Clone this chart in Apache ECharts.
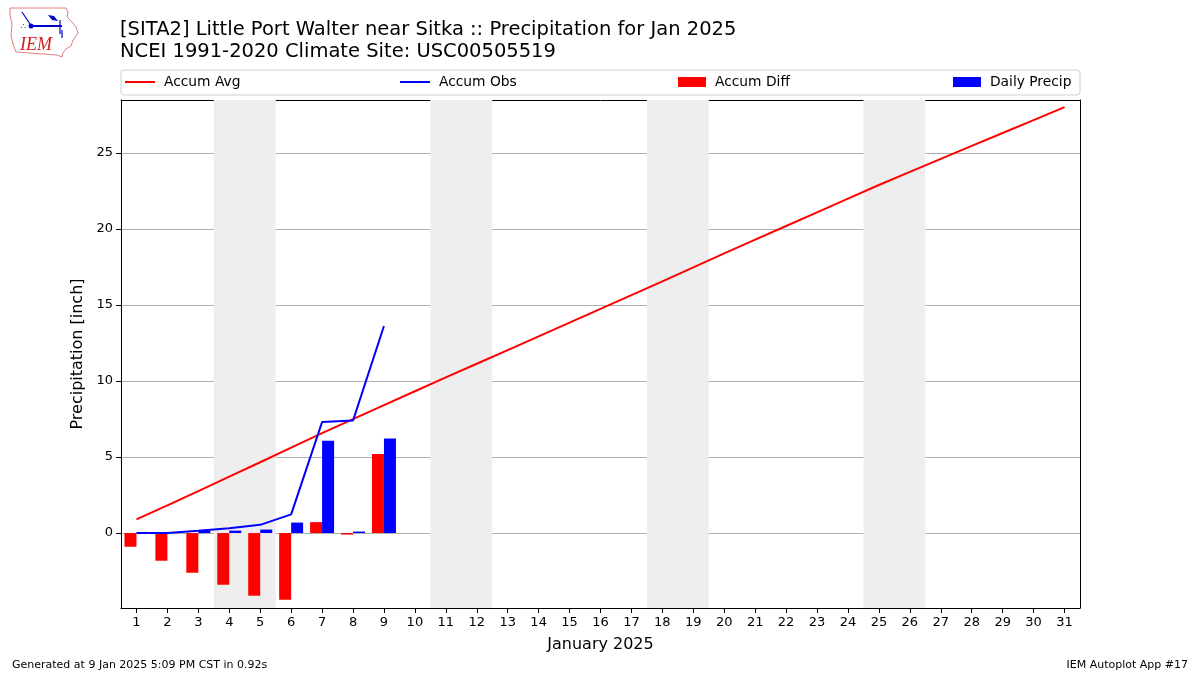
<!DOCTYPE html>
<html>
<head>
<meta charset="utf-8">
<script src="https://cdn.jsdelivr.net/npm/echarts@6/dist/echarts.min.js"></script>
<style>
html,body{margin:0;padding:0;background:#fff;}
#chart{width:1200px;height:675px;}
</style>
</head>
<body>
<div id="chart"></div>
<script>
// ---- data ----
var days = ['1','2','3','4','5','6','7','8','9','10','11','12','13','14','15','16','17','18','19','20','21','22','23','24','25','26','27','28','29','30','31'];
var accumAvg = [0.90,1.82,2.76,3.71,4.66,5.62,6.58,7.50,8.42,9.33,10.24,11.14,12.04,12.94,13.84,14.75,15.65,16.56,17.48,18.40,19.30,20.20,21.10,22.00,22.90,23.76,24.62,25.47,26.32,27.17,28.02];
var accumObs = [0.00,0.00,0.15,0.31,0.54,1.23,7.30,7.40,13.62];
var accumDiff = [-0.90,-1.82,-2.61,-3.40,-4.12,-4.39,0.72,-0.10,5.20];
var dailyPrecip = [0.00,0.00,0.15,0.16,0.23,0.69,6.07,0.10,6.22];
var weekends = [[3.5,5.5],[10.5,12.5],[17.5,19.5],[24.5,26.5]];
var yTicks = [0,5,10,15,20,25];
var yMin = -4.93, yMax = 28.49;

var FONT = 'DejaVu Sans';
var chart = echarts.init(document.getElementById('chart'), null, {renderer:'canvas'});

var shadeData = weekends.map(function(w){ return [{xAxis:w[0]},{xAxis:w[1]}]; });

function legendAt(left, name, isLine){
  return {
    show:true, left:left - 5, top:70, orient:'horizontal',
    data:[{name:name, icon:'rect'}],
    itemWidth: isLine ? 30 : 28,
    itemHeight: isLine ? 2 : 10,
    selectedMode:false,
    textStyle:{fontFamily:FONT, fontSize:13.8, color:'#000', padding:[0,0,0,4]}
  };
}

var option = {
  animation:false,
  backgroundColor:'#fff',
  title:{
    text:'[SITA2] Little Port Walter near Sitka :: Precipitation for Jan 2025\nNCEI 1991-2020 Climate Site: USC00505519',
    left:115, top:14,
    textStyle:{fontFamily:FONT, fontSize:19.5, fontWeight:'normal', color:'#000', lineHeight:22}
  },
  legend:[
    legendAt(125,'Accum Avg',true),
    legendAt(400,'Accum Obs',true),
    legendAt(678,'Accum Diff',false),
    legendAt(953,'Daily Precip',false)
  ],
  grid:{left:121, top:100, width:959, height:508, containLabel:false},
  xAxis:[
    {
      type:'category', data:days, boundaryGap:true, position:'bottom',
      axisLine:{show:true, onZero:false, lineStyle:{color:'#000', width:1}},
      axisTick:{show:true, alignWithLabel:true, length:5, inside:false, lineStyle:{color:'#000'}},
      axisLabel:{fontFamily:FONT, fontSize:13, color:'#000', margin:8, interval:0},
      splitLine:{show:false},
      name:'January 2025', nameLocation:'middle', nameGap:29,
      nameTextStyle:{fontFamily:FONT, fontSize:16, color:'#000'}
    },
    {
      type:'value', min:0.5, max:31.5, position:'top',
      axisLine:{show:true, onZero:false, lineStyle:{color:'#000', width:1}},
      axisTick:{show:false}, axisLabel:{show:false}, splitLine:{show:false}
    }
  ],
  yAxis:[
    {
      type:'value', min:yMin, max:yMax,
      axisLine:{show:true, onZero:false, lineStyle:{color:'#000', width:1}},
      axisTick:{show:true, length:5, lineStyle:{color:'#000'}, customValues: yTicks},
      axisLabel:{fontFamily:FONT, fontSize:13, color:'#000', margin:8, customValues: yTicks},
      splitLine:{show:true, lineStyle:{color:'#b0b0b0', width:1}},
      name:'Precipitation [inch]', nameLocation:'middle', nameGap:34, nameRotate:90,
      nameTextStyle:{fontFamily:FONT, fontSize:16, color:'#000'}
    },
    {
      type:'value', min:yMin, max:yMax, position:'right',
      axisLine:{show:true, onZero:false, lineStyle:{color:'#000', width:1}},
      axisTick:{show:false}, axisLabel:{show:false}, splitLine:{show:false}
    }
  ],
  series:[
    {
      name:'shade', type:'line', xAxisIndex:1, yAxisIndex:0, data:[], z:-1,
      silent:true,
      markArea:{silent:true, itemStyle:{color:'#eeeeee'}, data:shadeData}
    },
    {
      name:'Accum Diff', type:'bar', xAxisIndex:0, yAxisIndex:0,
      data:accumDiff, barWidth:12, barGap:'0%',
      itemStyle:{color:'#ff0000'}
    },
    {
      name:'Daily Precip', type:'bar', xAxisIndex:0, yAxisIndex:0,
      data:dailyPrecip, barWidth:12, barGap:'0%',
      itemStyle:{color:'#0000ff'}
    },
    {
      name:'Accum Avg', type:'line', xAxisIndex:0, yAxisIndex:0,
      data:accumAvg, showSymbol:false, symbol:'none',
      lineStyle:{color:'#ff0000', width:2}, itemStyle:{color:'#ff0000'}
    },
    {
      name:'Accum Obs', type:'line', xAxisIndex:0, yAxisIndex:0,
      data:accumObs, showSymbol:false, symbol:'none',
      lineStyle:{color:'#0000ff', width:2}, itemStyle:{color:'#0000ff'}
    }
  ],
  graphic:[
    {type:'rect', z:-10, shape:{x:121, y:70, width:959, height:25, r:3},
      style:{fill:'#fff', stroke:'#d0d0d0', lineWidth:1}},
    {type:'text', left:12, top:660,
      style:{text:'Generated at 9 Jan 2025 5:09 PM CST in 0.92s', font:'11px "DejaVu Sans"', fill:'#000'}},
    {type:'text', right:12, top:660,
      style:{text:'IEM Autoplot App #17', font:'11px "DejaVu Sans"', fill:'#000'}},
    // IEM logo approximation
    {type:'polygon', shape:{points:[[10,8],[66,8],[68,12],[67,17],[72,22],[76,27],[78,33],[73,40],[71,46],[66,49],[63,53],[62,57],[57,55],[16,52],[13,44],[11,35],[12,24],[10,15]]},
      style:{fill:'none', stroke:'#e08080', lineWidth:1}},
    {type:'text', left:20, top:36, style:{text:'IEM', font:'italic 18px "Liberation Serif"', fill:'#d02020'}},
    {type:'line', shape:{x1:31, y1:26, x2:62, y2:26}, style:{stroke:'#0000cc', lineWidth:2}},
    {type:'circle', shape:{cx:31, cy:26, r:2.5}, style:{fill:'#0000cc'}},
    {type:'line', shape:{x1:22, y1:12, x2:30, y2:24}, style:{stroke:'#0000cc', lineWidth:1.2}},
    {type:'polygon', shape:{points:[[48,15],[54,16],[58,21],[52,20]]}, style:{fill:'#0000cc'}},
    {type:'line', shape:{x1:60, y1:20, x2:60, y2:34}, style:{stroke:'#0000cc', lineWidth:1.2}},
    {type:'line', shape:{x1:62, y1:30, x2:62, y2:38}, style:{stroke:'#0000cc', lineWidth:1.2}},
    {type:'text', left:21, top:23, style:{text:'∴', font:'8px "DejaVu Sans"', fill:'#0000cc'}}
  ]
};
chart.setOption(option);
</script>
</body>
</html>
